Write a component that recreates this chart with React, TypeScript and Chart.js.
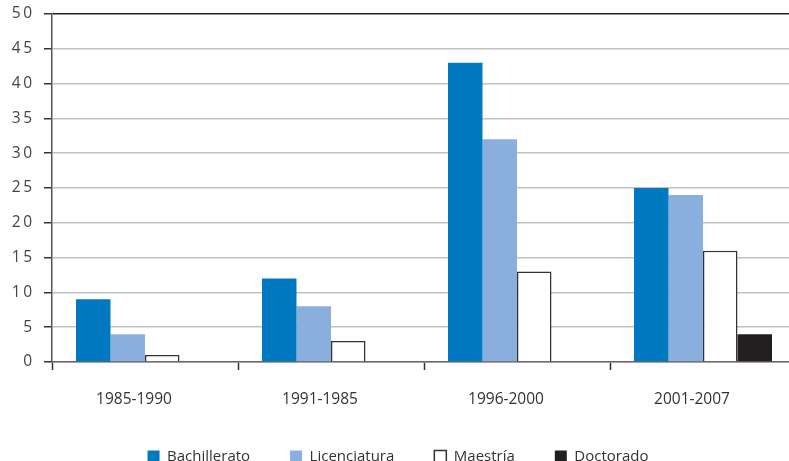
import React, { useEffect, useRef } from "react";
import { Chart, registerables } from "chart.js";

Chart.register(...registerables);

// Periods on the horizontal axis
const periods = ["1985-1990", "1991-1985", "1996-2000", "2001-2007"];

// Values per degree level
const bachillerato = [9, 12, 43, 25];
const licenciatura = [4, 8, 32, 24];
const maestria = [1, 3, 13, 16];
const doctorado = [0, 0, 0, 4];

// Vertical axis range
const yMin = 0;
const yMax = 50;
const yStep = 5;

const FONT = "'Open Sans', 'Noto Sans', sans-serif";

export default function App() {
  const canvasRef = useRef<HTMLCanvasElement | null>(null);

  useEffect(() => {
    const canvas = canvasRef.current;
    if (!canvas) return;

    const chart = new Chart(canvas, {
      type: "bar",
      data: {
        labels: periods,
        datasets: [
          {
            label: "Bachillerato",
            data: bachillerato,
            backgroundColor: "#0079c1",
            borderWidth: 0,
          },
          {
            label: "Licenciatura",
            data: licenciatura,
            backgroundColor: "#8aafdc",
            borderWidth: 0,
          },
          {
            label: "Maestría",
            data: maestria,
            backgroundColor: "#ffffff",
            borderColor: "#333333",
            borderWidth: 1.5,
          },
          {
            label: "Doctorado",
            data: doctorado,
            backgroundColor: "#231f20",
            borderWidth: 0,
          },
        ],
      },
      options: {
        responsive: false,
        animation: false,
        maintainAspectRatio: false,
        categoryPercentage: 0.742,
        barPercentage: 1,
        layout: { padding: { top: 14, right: 4, left: 0, bottom: 0 } },
        plugins: {
          tooltip: { enabled: false },
          legend: {
            position: "bottom",
            fullSize: true,
            maxHeight: 52,
            labels: {
              boxWidth: 12,
              boxHeight: 12,
              padding: 40,
              color: "#333333",
              font: { family: FONT, size: 15 },
            },
          },
        },
        scales: {
          x: {
            grid: {
              display: true,
              drawOnChartArea: false,
              drawTicks: true,
              tickLength: 8,
              tickColor: "#333333",
              tickWidth: 1.5,
              offset: true,
            },
            border: { display: true, color: "#666666", width: 1.5 },
            ticks: {
              color: "#333333",
              padding: 20,
              labelOffset: -11,
              font: { family: FONT, size: 15.5 },
            },
            afterFit: (scale: any) => {
              scale.height = 47;
            },
          },
          y: {
            min: yMin,
            max: yMax,
            ticks: {
              stepSize: yStep,
              color: "#444444",
              padding: 12,
              font: { family: FONT, size: 15.5 },
              callback: (v: any) => String(v).split("").join("\u2009"),
            },
            grid: {
              color: (ctx: any) =>
                ctx.tick && ctx.tick.value === yMax ? "#222222" : "#c2c2c2",
              lineWidth: 1.5,
              tickLength: 8,
              tickColor: "#333333",
              tickWidth: 1.5,
            },
            border: { display: true, color: "#555555", width: 1.5 },
            afterFit: (scale: any) => {
              scale.width = 52;
              scale.paddingTop = 0;
              scale.paddingBottom = 0;
            },
          },
        },
      },
    });

    return () => chart.destroy();
  }, []);

  return (
    <div
      style={{
        position: "fixed",
        left: 0,
        top: 0,
        width: 789,
        height: 461,
        overflow: "hidden",
        background: "#ffffff",
      }}
    >
      <canvas
        ref={canvasRef}
        width={800}
        height={461}
        style={{ width: 800, height: 461, display: "block" }}
      />
    </div>
  );
}
